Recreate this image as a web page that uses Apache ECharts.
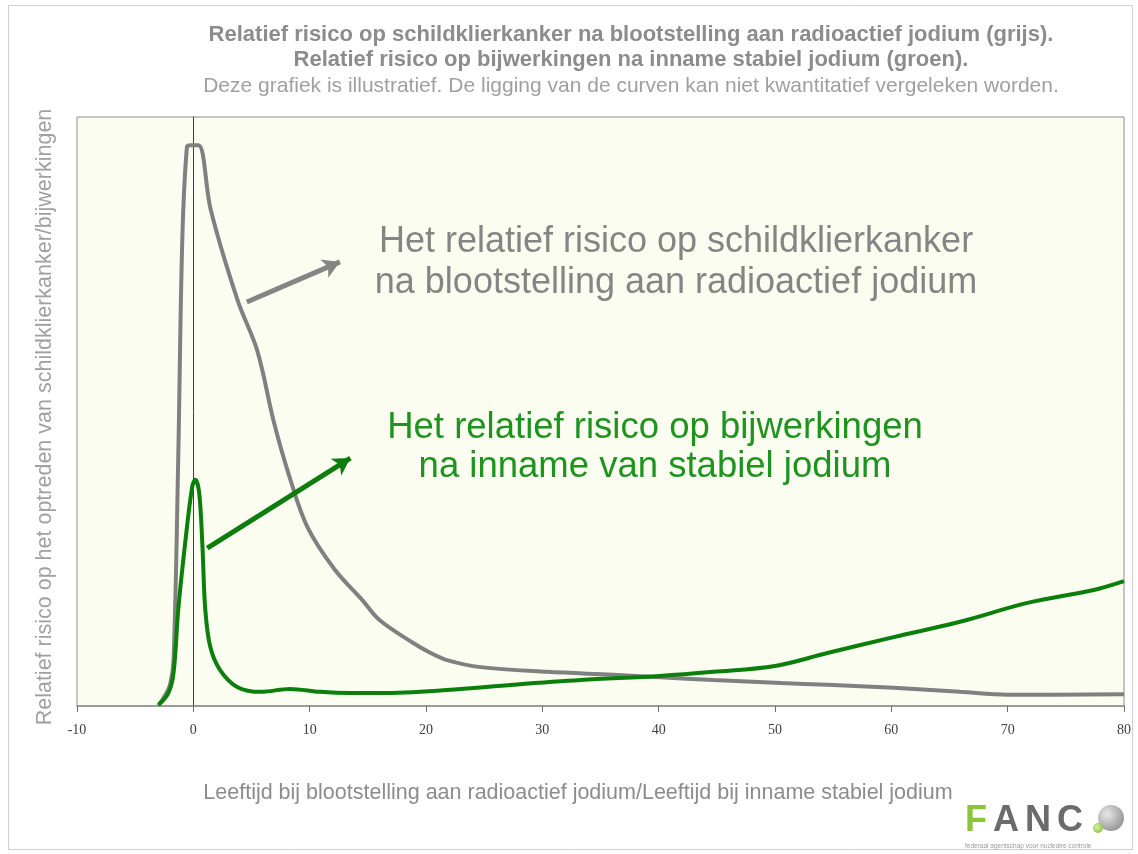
<!DOCTYPE html>
<html>
<head>
<meta charset="utf-8">
<script src="https://cdn.jsdelivr.net/npm/echarts@6/dist/echarts.min.js"></script>
<style>
  html, body { margin: 0; padding: 0; background: #ffffff; }
  #chart { width: 1138px; height: 854px; }
</style>
</head>
<body>
<div id="chart"></div>
<script>
// leeftijd (x) en relatief risico (y, willekeurige schaal 0-100)
const grijsX = [-3.0, -2.4, -2.0, -1.7, -1.3, -0.95, -0.55, -0.25, 0.45, 1.5, 3.8, 5.5, 6.9, 8.3, 9.8, 12.1, 14.6, 16.0, 18.9, 20.4, 21.8, 24.7, 30.4, 36.1, 40.1, 44.7, 50.5, 54.5, 60.2, 65.9, 70.0, 80.0];
const grijsY = [0, 1.9, 3.6, 7.8, 41.8, 79.1, 94.9, 95.2, 95.2, 84.2, 68.9, 60.3, 48.4, 38.7, 30.4, 23.3, 17.8, 14.6, 10.7, 9.0, 7.8, 6.6, 5.8, 5.3, 4.9, 4.4, 3.9, 3.6, 3.1, 2.4, 1.9, 2.0];

const groenX = [-3.0, -2.15, -1.7, -1.3, -0.7, -0.1, 0.17, 0.5, 0.77, 1.03, 1.46, 2.3, 3.8, 5.8, 8.3, 10.9, 13.5, 16.1, 21.8, 27.5, 33.3, 40.1, 44.7, 50.0, 54.5, 60.2, 65.9, 71.7, 77.4, 80.0];
const groenY = [0.2, 2.2, 5.6, 16.3, 27.7, 37.2, 38.4, 36.2, 27.7, 16.3, 10.0, 6.1, 3.2, 2.4, 2.9, 2.4, 2.2, 2.2, 2.7, 3.6, 4.4, 5.1, 5.8, 6.8, 9.0, 11.7, 14.3, 17.5, 19.7, 21.2];

// pijlen: [begin, eind] in asco\u00f6rdinaten
const pijlGrijs = [[4.6, 68.6], [12.6, 75.4]];
const pijlGroen = [[1.2, 26.8], [13.5, 42.1]];

const titel1 = 'Relatief risico op schildklierkanker na blootstelling aan radioactief jodium (grijs).';
const titel2 = 'Relatief risico op bijwerkingen na inname stabiel jodium (groen).';
const titel3 = 'Deze grafiek is illustratief. De ligging van de curven kan niet kwantitatief vergeleken worden.';
const yNaam = 'Relatief risico op het optreden van schildklierkanker/bijwerkingen';
const xNaam = 'Leeftijd bij blootstelling aan radioactief jodium/Leeftijd bij inname stabiel jodium';
const tekstGrijs = ['Het relatief risico op schildklierkanker', 'na blootstelling aan radioactief jodium'];
const tekstGroen = ['Het relatief risico op bijwerkingen', 'na inname van stabiel jodium'];

const GRIJS = '#858585';
const GROEN = '#0e7d0e';

const chart = echarts.init(document.getElementById('chart'));

function zip(xs, ys) {
  return xs.map((x, i) => [x, ys[i]]);
}

function pijl(p, kleur) {
  return {
    silent: true,
    symbol: ['none', 'arrow'],
    symbolSize: [15, 17],
    label: { show: false },
    lineStyle: { color: kleur, width: 5, type: 'solid' },
    data: [[{ coord: p[0] }, { coord: p[1] }]]
  };
}

const option = {
  backgroundColor: '#ffffff',
  animation: false,
  grid: {
    left: 77,
    top: 117,
    right: 14,
    bottom: 148,
    show: true,
    backgroundColor: '#fbfdf0',
    borderColor: '#8c8c8c',
    borderWidth: 1
  },
  xAxis: {
    type: 'value',
    min: -10,
    max: 80,
    interval: 10,
    axisLine: { lineStyle: { color: '#8c8c8c', width: 1.5 } },
    axisTick: { show: true, length: 6, lineStyle: { color: '#707070' } },
    axisLabel: {
      color: '#404040',
      fontFamily: 'Liberation Serif',
      fontSize: 14,
      margin: 17
    },
    splitLine: { show: false }
  },
  yAxis: {
    type: 'value',
    min: 0,
    max: 100,
    axisLine: { show: true, onZero: true, lineStyle: { color: '#404040', width: 1 } },
    axisTick: { show: false },
    axisLabel: { show: false },
    splitLine: { show: false }
  },
  series: [
    {
      name: 'grijs',
      type: 'line',
      data: zip(grijsX, grijsY),
      smooth: 0.35,
      symbol: 'none',
      lineStyle: { color: '#808080', width: 4 },
      z: 3,
      markLine: pijl(pijlGrijs, GRIJS)
    },
    {
      name: 'groen',
      type: 'line',
      data: zip(groenX, groenY),
      smooth: 0.35,
      symbol: 'none',
      lineStyle: { color: '#0b7f0b', width: 4 },
      z: 4,
      markLine: pijl(pijlGroen, GROEN)
    }
  ],
  graphic: [
    {
      type: 'rect',
      shape: { x: 8.5, y: 5.5, width: 1124, height: 844 },
      style: { fill: 'none', stroke: '#cfcfcf', lineWidth: 1 },
      z: -1
    },
    {
      type: 'text', x: 631, y: 35,
      style: { text: titel1, fill: '#8c8c8c', font: 'bold 22px "Liberation Sans"', align: 'center', verticalAlign: 'middle' }
    },
    {
      type: 'text', x: 631, y: 60,
      style: { text: titel2, fill: '#8c8c8c', font: 'bold 22px "Liberation Sans"', align: 'center', verticalAlign: 'middle' }
    },
    {
      type: 'text', x: 631, y: 86,
      style: { text: titel3, fill: '#a0a0a0', font: '21px "Liberation Sans"', align: 'center', verticalAlign: 'middle' }
    },
    {
      type: 'text', x: 45, y: 417, rotation: Math.PI / 2,
      style: { text: yNaam, fill: '#a0a0a0', font: '21.5px "Liberation Sans"', align: 'center', verticalAlign: 'middle' }
    },
    {
      type: 'text', x: 578, y: 793,
      style: { text: xNaam, fill: '#8c8c8c', font: '21.5px "Liberation Sans"', align: 'center', verticalAlign: 'middle' }
    },
    {
      type: 'text', x: 676, y: 242,
      style: { text: tekstGrijs[0], fill: GRIJS, font: '36px "Liberation Sans"', align: 'center', verticalAlign: 'middle' }
    },
    {
      type: 'text', x: 676, y: 283,
      style: { text: tekstGrijs[1], fill: GRIJS, font: '36px "Liberation Sans"', align: 'center', verticalAlign: 'middle' }
    },
    {
      type: 'text', x: 655, y: 428,
      style: { text: tekstGroen[0], fill: '#1e931e', font: '36.5px "Liberation Sans"', align: 'center', verticalAlign: 'middle' }
    },
    {
      type: 'text', x: 655, y: 467,
      style: { text: tekstGroen[1], fill: '#1e931e', font: '36.5px "Liberation Sans"', align: 'center', verticalAlign: 'middle' }
    },
    // FANC logo
    {
      type: 'text', x: 965, y: 821,
      style: {
        text: '{f|F}{r|A}{s|N}{t|C}',
        verticalAlign: 'middle',
        rich: {
          f: { fill: '#8cc43c', font: 'bold 36px "Liberation Sans"', padding: [0, 6, 0, 0] },
          r: { fill: '#6b6b6b', font: 'bold 36px "Liberation Sans"', padding: [0, 6, 0, 0] },
          s: { fill: '#6b6b6b', font: 'bold 36px "Liberation Sans"', padding: [0, 6, 0, 0] },
          t: { fill: '#6b6b6b', font: 'bold 36px "Liberation Sans"' }
        }
      }
    },
    {
      type: 'circle',
      shape: { cx: 1111, cy: 818, r: 13 },
      style: {
        fill: new echarts.graphic.RadialGradient(0.35, 0.35, 0.8, [
          { offset: 0, color: '#e8e8e8' },
          { offset: 1, color: '#8a8a8a' }
        ])
      }
    },
    {
      type: 'circle',
      shape: { cx: 1098, cy: 828, r: 5 },
      style: {
        fill: new echarts.graphic.RadialGradient(0.4, 0.4, 0.8, [
          { offset: 0, color: '#d8f0a8' },
          { offset: 1, color: '#7cb82e' }
        ])
      }
    },
    {
      type: 'text', x: 965, y: 846,
      style: { text: 'federaal agentschap voor nucleaire controle', fill: '#9a9a9a', font: '6.5px "Liberation Sans"', verticalAlign: 'middle' }
    }
  ]
};

chart.setOption(option);
</script>
</body>
</html>
